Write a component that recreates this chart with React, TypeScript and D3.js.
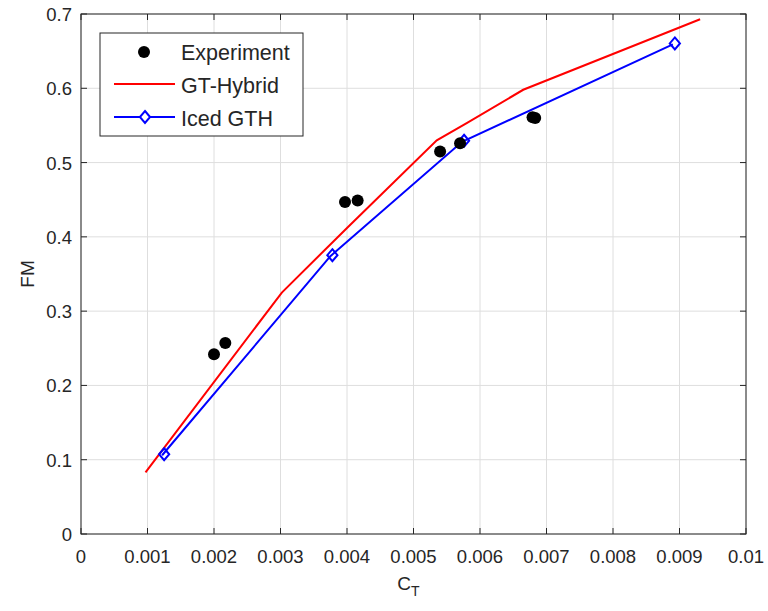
import React from "react";
import * as d3 from "d3";

const experimentCT = [0.00200, 0.00217, 0.00397, 0.00416, 0.00540, 0.00570, 0.00679, 0.00683];
const experimentFM = [0.242, 0.257, 0.447, 0.449, 0.515, 0.526, 0.561, 0.560];

const gtHybridCT = [0.00097, 0.00302, 0.00400, 0.00535, 0.00580, 0.00665, 0.00931];
const gtHybridFM = [0.083, 0.325, 0.412, 0.530, 0.553, 0.598, 0.693];

const icedCT = [0.00122, 0.00375, 0.00573, 0.00890];
const icedFM = [0.106, 0.374, 0.528, 0.659];

const xTicks = [0, 0.001, 0.002, 0.003, 0.004, 0.005, 0.006, 0.007, 0.008, 0.009, 0.01];
const xTickLabels = ["0", "0.001", "0.002", "0.003", "0.004", "0.005", "0.006", "0.007", "0.008", "0.009", "0.01"];
const yTicks = [0, 0.1, 0.2, 0.3, 0.4, 0.5, 0.6, 0.7];
const yTickLabels = ["0", "0.1", "0.2", "0.3", "0.4", "0.5", "0.6", "0.7"];
const legendLabels = ["Experiment", "GT-Hybrid", "Iced GTH"];

export default function App() {
  const W = 768, H = 611;
  const L = 81, R = 746, T = 14, B = 534;
  const x = d3.scaleLinear().domain([0, 0.01]).range([L, R]);
  const y = d3.scaleLinear().domain([0, 0.7]).range([B, T]);
  const axisColor = "#262626";
  const font = "Arial, 'Liberation Sans', Helvetica, sans-serif";

  const line = d3.line<[number, number]>().x(d => x(d[0])).y(d => y(d[1]));
  const redPts: [number, number][] = gtHybridCT.map((c, i) => [c, gtHybridFM[i]]);
  const bluePts: [number, number][] = icedCT.map((c, i) => [c, icedFM[i]]);

  const diamond = (cx: number, cy: number, r: number) =>
    `M${cx},${cy - r}L${cx + r * 0.85},${cy}L${cx},${cy + r}L${cx - r * 0.85},${cy}Z`;

  return (
    <svg width={W} height={H} style={{ position: "absolute", left: 0, top: 0, background: "#fff" }}>
      <rect x={0} y={0} width={W} height={H} fill="#fff" />
      {/* grid */}
      {xTicks.map((t, i) => (
        <line key={"gx" + i} x1={x(t)} x2={x(t)} y1={T} y2={B} stroke="#dedede" strokeWidth={1} />
      ))}
      {yTicks.map((t, i) => (
        <line key={"gy" + i} x1={L} x2={R} y1={y(t)} y2={y(t)} stroke="#dedede" strokeWidth={1} />
      ))}
      {/* ticks */}
      {xTicks.map((t, i) => (
        <g key={"tx" + i}>
          <line x1={x(t)} x2={x(t)} y1={B} y2={B - 6} stroke={axisColor} />
          <line x1={x(t)} x2={x(t)} y1={T} y2={T + 6} stroke={axisColor} />
          <text x={x(t)} y={B + 29} textAnchor="middle" fontSize={18.5} fill={axisColor} fontFamily={font}>
            {xTickLabels[i]}
          </text>
        </g>
      ))}
      {yTicks.map((t, i) => (
        <g key={"ty" + i}>
          <line x1={L} x2={L + 6} y1={y(t)} y2={y(t)} stroke={axisColor} />
          <line x1={R} x2={R - 6} y1={y(t)} y2={y(t)} stroke={axisColor} />
          <text x={L - 9} y={y(t) + 7} textAnchor="end" fontSize={18.5} fill={axisColor} fontFamily={font}>
            {yTickLabels[i]}
          </text>
        </g>
      ))}
      {/* data */}
      <path d={line(redPts) || ""} fill="none" stroke="#ff0000" strokeWidth={2} />
      <path d={line(bluePts) || ""} fill="none" stroke="#0000ff" strokeWidth={2} />
      {bluePts.map((p, i) => (
        <path key={"dm" + i} d={diamond(x(p[0]) + 2, y(p[1]) - 1, 6)} fill="none" stroke="#0000ff" strokeWidth={2} />
      ))}
      {experimentCT.map((c, i) => (
        <circle key={"ex" + i} cx={x(c)} cy={y(experimentFM[i])} r={6} fill="#000" />
      ))}
      {/* axes box */}
      <rect x={L} y={T} width={R - L} height={B - T} fill="none" stroke={axisColor} strokeWidth={1} />
      {/* axis labels */}
      <text x={(L + R) / 2 - 5} y={590} textAnchor="middle" fontSize={19} fill={axisColor} fontFamily={font}>
        C<tspan dy={6} fontSize={14}>T</tspan>
      </text>
      <text transform={`translate(34, ${(T + B) / 2}) rotate(-90)`} textAnchor="middle" fontSize={19} fill={axisColor} fontFamily={font}>
        FM
      </text>
      {/* legend */}
      <g>
        <rect x={100} y={33} width={203} height={103} fill="#fff" stroke={axisColor} strokeWidth={1} />
        <circle cx={144} cy={52} r={6} fill="#000" />
        <line x1={114} x2={175} y1={84} y2={84} stroke="#ff0000" strokeWidth={2} />
        <line x1={114} x2={175} y1={117} y2={117} stroke="#0000ff" strokeWidth={2} />
        <path d={diamond(145, 117, 6)} fill="#fff" stroke="#0000ff" strokeWidth={2} />
        {legendLabels.map((lab, i) => (
          <text key={"lg" + i} x={181} y={60 + i * 33} fontSize={21.5} fill={axisColor} fontFamily={font}>
            {lab}
          </text>
        ))}
      </g>
    </svg>
  );
}
